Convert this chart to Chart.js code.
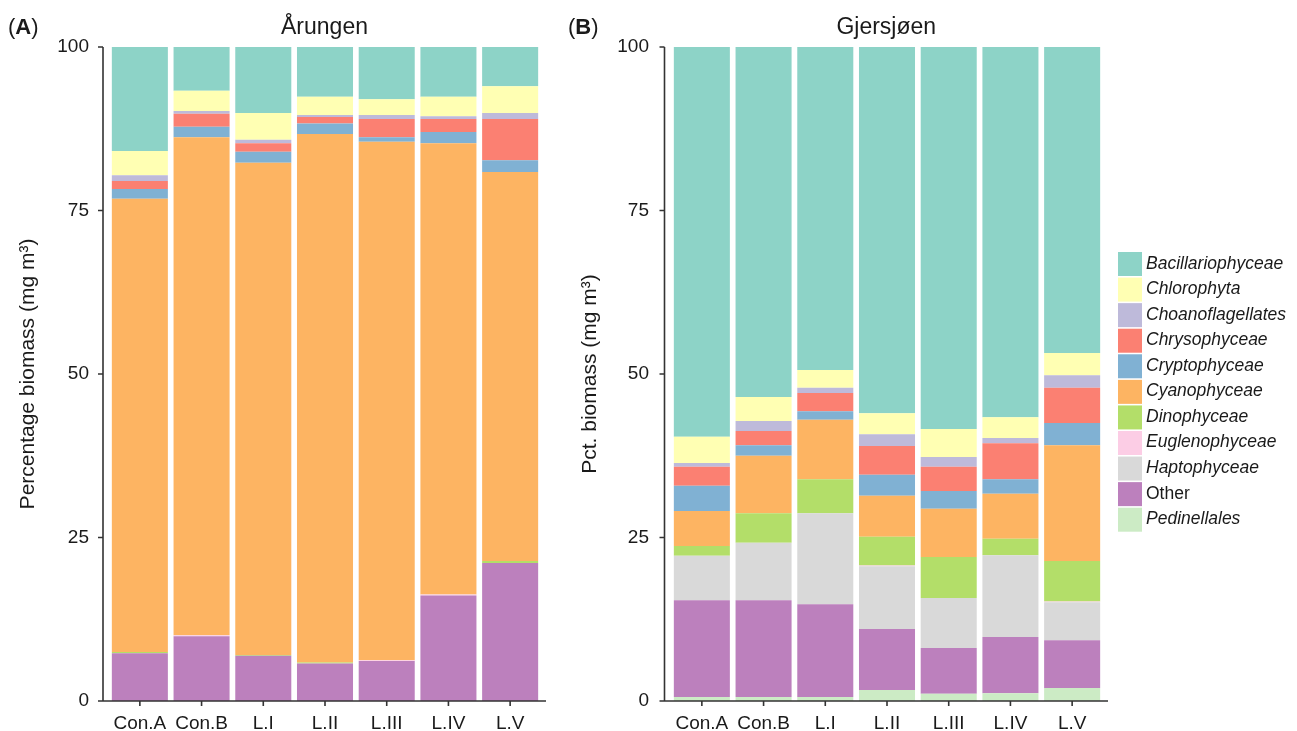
<!DOCTYPE html>
<html>
<head>
<meta charset="utf-8">
<title>Phytoplankton biomass composition</title>
<script src="https://cdn.jsdelivr.net/npm/chart.js@4.4.1/dist/chart.umd.min.js"></script>
<style>
  html, body { margin: 0; padding: 0; background: #fff; width: 1297px; height: 731px; overflow: hidden; }
  canvas { position: absolute; top: 0; }
  #cA { left: 0; }
  #cB { left: 560px; }
</style>
</head>
<body>
<canvas id="cA" width="560" height="731"></canvas>
<canvas id="cB" width="737" height="731"></canvas>
<script>
// Sampling sites / treatments
const categories = ['Con.A', 'Con.B', 'L.I', 'L.II', 'L.III', 'L.IV', 'L.V'];
const yTicks = [0, 25, 50, 75, 100];

// Group names (stack order, bottom to top) and fill colours
const groups = ['Pedinellales', 'Other', 'Haptophyceae', 'Euglenophyceae', 'Dinophyceae',
  'Cyanophyceae', 'Cryptophyceae', 'Chrysophyceae', 'Choanoflagellates', 'Chlorophyta', 'Bacillariophyceae'];
const groupColors = ['#CCEBC5', '#BC80BD', '#D9D9D9', '#FCCDE5', '#B3DE69',
  '#FDB462', '#80B1D3', '#FB8072', '#BEBADA', '#FFFFB3', '#8DD3C7'];

// Årungen – percentage biomass per group
const arPedinellales      = [0,    0,     0,     0,    0,     0,     0];
const arOther             = [7.3,  9.9,   6.9,   5.75, 6.1,   16.15, 21.1];
const arHaptophyceae      = [0,    0,     0,     0,    0,     0,     0];
const arEuglenophyceae    = [0,    0.15,  0,     0,    0.15,  0.15,  0];
const arDinophyceae       = [0.2,  0,     0.15,  0.15, 0,     0,     0.3];
const arCyanophyceae      = [69.3, 76.15, 75.25, 80.8, 79.25, 69.0,  59.5];
const arCryptophyceae     = [1.5,  1.6,   1.7,   1.6,  0.7,   1.7,   1.8];
const arChrysophyceae     = [1.2,  2.0,   1.3,   1.0,  2.8,   2.0,   6.3];
const arChoanoflagellates = [0.9,  0.4,   0.5,   0.3,  0.6,   0.4,   0.9];
const arChlorophyta       = [3.7,  3.1,   4.1,   2.8,  2.4,   3.0,   4.1];
const arBacillariophyceae = [15.9, 6.7,   10.1,  7.6,  8.0,   7.6,   6.0];

// Gjersjøen – percentage biomass per group
const gjPedinellales      = [0.6,  0.6,  0.6,  1.7,  1.1,  1.2,  2.0];
const gjOther             = [14.8, 14.8, 14.2, 9.3,  7.0,  8.6,  7.3];
const gjHaptophyceae      = [6.8,  8.8,  13.9, 9.6,  7.65, 12.5, 5.8];
const gjEuglenophyceae    = [0,    0,    0,    0.1,  0,    0,    0.1];
const gjDinophyceae       = [1.5,  4.5,  5.2,  4.4,  6.25, 2.5,  6.2];
const gjCyanophyceae      = [5.35, 8.8,  9.1,  6.3,  7.4,  6.9,  17.7];
const gjCryptophyceae     = [3.85, 1.6,  1.3,  3.2,  2.7,  2.2,  3.4];
const gjChrysophyceae     = [2.9,  2.2,  2.8,  4.4,  3.7,  5.5,  5.4];
const gjChoanoflagellates = [0.6,  1.5,  0.8,  1.8,  1.5,  0.8,  1.9];
const gjChlorophyta       = [4.0,  3.7,  2.7,  3.2,  4.3,  3.2,  3.4];
const gjBacillariophyceae = [59.6, 53.5, 49.4, 56.0, 58.4, 56.6, 46.8];

const arSeries = [arPedinellales, arOther, arHaptophyceae, arEuglenophyceae, arDinophyceae,
  arCyanophyceae, arCryptophyceae, arChrysophyceae, arChoanoflagellates, arChlorophyta, arBacillariophyceae];
const gjSeries = [gjPedinellales, gjOther, gjHaptophyceae, gjEuglenophyceae, gjDinophyceae,
  gjCyanophyceae, gjCryptophyceae, gjChrysophyceae, gjChoanoflagellates, gjChlorophyta, gjBacillariophyceae];

const FONT = "'Liberation Sans', Arial, Helvetica, sans-serif";
const INK = '#1a1a1a';
Chart.defaults.font.family = FONT;
Chart.defaults.color = INK;

function makeDatasets(series) {
  return groups.map((g, i) => ({
    label: g,
    data: series[i],
    backgroundColor: groupColors[i],
    borderWidth: 0,
    barPercentage: 0.908,
    categoryPercentage: 1.0,
    stack: 's'
  }));
}

// Axis lines, tick marks, panel tag, panel title and (optionally) legend
const panelDecor = {
  id: 'panelDecor',
  afterDraw(chart, args, o) {
    const { ctx, chartArea } = chart;
    const xs = chart.scales.x, ys = chart.scales.y;
    const axL = chartArea.left - o.gapLeft;
    const axR = chartArea.right + o.gapRight;
    const y0 = ys.getPixelForValue(0);
    const yTop = ys.getPixelForValue(100);
    ctx.save();
    ctx.strokeStyle = '#333';
    ctx.lineWidth = 1.6;
    ctx.beginPath();
    ctx.moveTo(axL, yTop);
    ctx.lineTo(axL, y0 + 0.8);
    ctx.moveTo(axL - 0.8, y0);
    ctx.lineTo(axR, y0);
    yTicks.forEach(v => {
      const p = ys.getPixelForValue(v);
      ctx.moveTo(axL, p);
      ctx.lineTo(axL - 5, p);
    });
    categories.forEach((c, i) => {
      const p = xs.getPixelForValue(i);
      ctx.moveTo(p, y0);
      ctx.lineTo(p, y0 + 5);
    });
    ctx.stroke();

    // panel tag, e.g. "(A)" with bold letter
    ctx.fillStyle = INK;
    ctx.textBaseline = 'alphabetic';
    ctx.textAlign = 'left';
    let tx = o.tagX;
    ctx.font = '22px ' + FONT;
    ctx.fillText('(', tx, 34);
    tx += ctx.measureText('(').width;
    ctx.font = 'bold 22px ' + FONT;
    ctx.fillText(o.tag, tx, 34);
    tx += ctx.measureText(o.tag).width;
    ctx.font = '22px ' + FONT;
    ctx.fillText(')', tx, 34);

    // panel title centred over the axis span
    ctx.font = '23px ' + FONT;
    ctx.textAlign = 'center';
    ctx.fillText(o.title, (axL + axR) / 2, 34);

    // legend: alphabetical order, top to bottom
    if (o.legend) {
      const lx = o.legendX, ly = o.legendY, step = 25.57;
      ctx.textAlign = 'left';
      for (let k = groups.length - 1, r = 0; k >= 0; k--, r++) {
        const top = ly + r * step;
        ctx.fillStyle = groupColors[k];
        ctx.fillRect(lx, top, 24, 24);
        ctx.fillStyle = INK;
        ctx.font = (groups[k] === 'Other' ? '' : 'italic ') + '17.5px ' + FONT;
        ctx.fillText(groups[k], lx + 28, top + 16.5);
      }
    }
    ctx.restore();
  }
};

function makeChart(id, series, cfg) {
  return new Chart(document.getElementById(id), {
    type: 'bar',
    data: { labels: categories, datasets: makeDatasets(series) },
    options: {
      responsive: false,
      animation: false,
      devicePixelRatio: 1,
      layout: { padding: { left: 0, top: 47, right: cfg.padRight, bottom: 0 } },
      plugins: {
        legend: { display: false },
        tooltip: { enabled: false },
        panelDecor: cfg.decor
      },
      scales: {
        x: {
          stacked: true,
          grid: { display: false },
          border: { display: false },
          ticks: { font: { size: 19 }, color: INK, padding: 3, maxRotation: 0, autoSkip: false },
          afterFit: s => { s.height = 30; }
        },
        y: {
          stacked: true,
          min: 0,
          max: 100,
          grid: { display: false, drawTicks: false },
          border: { display: false },
          afterBuildTicks: s => { s.ticks = yTicks.map(v => ({ value: v })); },
          ticks: { font: { size: 19 }, color: INK, padding: cfg.tickPad },
          title: {
            display: true,
            text: cfg.yTitle,
            font: { size: 21 },
            color: INK,
            padding: { top: cfg.titlePad, bottom: 0 }
          },
          afterFit: s => {
            s.width = cfg.yWidth;
            s.paddingTop = 0;
            s.paddingBottom = 0;
          }
        }
      }
    },
    plugins: [panelDecor]
  });
}

makeChart('cA', arSeries, {
  padRight: 19,
  yWidth: 109,
  tickPad: 20,
  titlePad: 16,
  yTitle: 'Percentage biomass (mg m³)',
  decor: { gapLeft: 6, gapRight: 5, tag: 'A', tagX: 8, title: 'Årungen', legend: false }
});

makeChart('cB', gjSeries, {
  padRight: 194,
  yWidth: 111,
  tickPad: 22,
  titlePad: 18,
  yTitle: 'Pct. biomass (mg m³)',
  decor: { gapLeft: 6.5, gapRight: 5, tag: 'B', tagX: 8, title: 'Gjersjøen', legend: true, legendX: 558, legendY: 252 }
});
</script>
</body>
</html>
